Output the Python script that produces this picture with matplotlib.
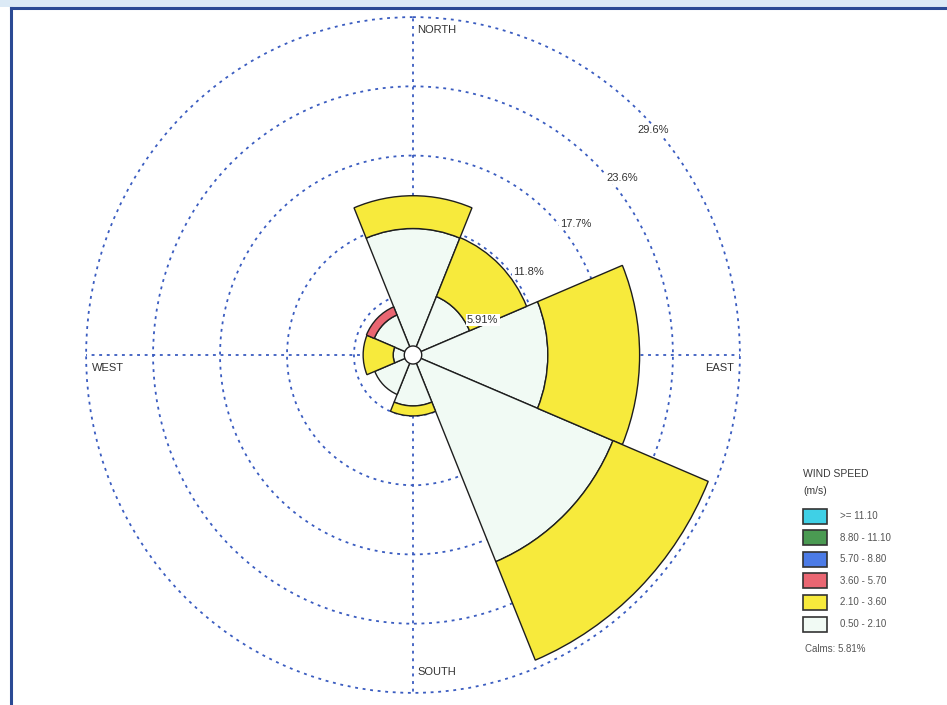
import numpy as np
import matplotlib
matplotlib.use("Agg")
import matplotlib.pyplot as plt
from matplotlib.patches import Rectangle
from matplotlib.lines import Line2D

# ---------------- data ----------------
directions = ['N', 'NE', 'E', 'SE', 'S', 'SW', 'W', 'NW']
dir_angles_deg = [0, 45, 90, 135, 180, 225, 270, 315]
speed_classes = ['0.50 - 2.10', '2.10 - 3.60', '3.60 - 5.70',
                 '5.70 - 8.80', '8.80 - 11.10', '>= 11.10']
freq_050_210 = [10.8, 5.4, 11.9, 19.1, 4.35, 3.65, 1.75, 3.7]
freq_210_360 = [2.8, 5.45, 8.1, 9.1, 0.85, 0.0, 2.65, 0.0]
freq_360_570 = [0.0, 0.0, 0.0, 0.0, 0.0, 0.0, 0.0, 0.75]
freq_570_880 = [0.0] * 8
freq_880_1110 = [0.0] * 8
freq_ge_1110 = [0.0] * 8
calms_pct = 5.81
ring_values = [5.91, 11.82, 17.73, 23.64, 29.55]
ring_labels = ['5.91%', '11.8%', '17.7%', '23.6%', '29.6%']
compass_labels = ['NORTH', 'EAST', 'SOUTH', 'WEST']

class_colors = ['#f1faf4', '#f7ea3c', '#ea6672', '#4c7be6', '#4a9a52', '#3fd0e6']
class_freqs = [freq_050_210, freq_210_360, freq_360_570,
               freq_570_880, freq_880_1110, freq_ge_1110]

W, H = 947, 705
fig = plt.figure(figsize=(W / 100, H / 100), dpi=100)
fig.patch.set_facecolor('white')

# frame decorations
fig.add_artist(Rectangle((0, 1 - 7 / H), 1, 7 / H, transform=fig.transFigure,
                         facecolor='#dceaf6', edgecolor='none', zorder=0))
fig.add_artist(Line2D([11 / W, 1], [1 - 8 / H, 1 - 8 / H], transform=fig.transFigure,
                      color='#2b4a94', lw=2.2))
fig.add_artist(Line2D([11 / W, 11 / W], [0, 1 - 8 / H], transform=fig.transFigure,
                      color='#2b4a94', lw=2.2))

# polar axes (slightly elliptical like the scan)
cx, cy = 413, 355
rx, ry = 327, 338
ax = fig.add_axes([(cx - rx) / W, (H - (cy + ry)) / H, 2 * rx / W, 2 * ry / H],
                  projection='polar')
ax.set_aspect('auto')
ax.set_theta_zero_location('N')
ax.set_theta_direction(-1)
rmin = 0.7
ax.set_ylim(rmin, 29.56)
ax.set_facecolor('none')
ax.spines['polar'].set_visible(False)
ax.set_axisbelow(True)

ax.set_rgrids(ring_values, labels=[''] * len(ring_values))
ax.set_thetagrids([0, 90, 180, 270], labels=[''] * 4)
ax.grid(True, color='#3a5cc0', linestyle=(0, (1.6, 2.6)), linewidth=1.3)
ax.tick_params(axis='both', length=0)
for gl in ax.yaxis.get_gridlines() + ax.xaxis.get_gridlines():
    gl.set_clip_on(False)

theta = np.deg2rad(dir_angles_deg)
width = 2 * np.pi / len(directions)
bottom = np.full(len(directions), rmin)
for vals, col in zip(class_freqs, class_colors):
    v = np.array(vals)
    mask = v > 0
    if mask.any():
        ax.bar(theta[mask], v[mask], width=width, bottom=bottom[mask],
               color=col, edgecolor='#1e1e1e', linewidth=1.0, align='center',
               zorder=2)
    bottom = bottom + v

# calm circle
calm_r = rmin + 0.77
circ_t = np.linspace(0, 2 * np.pi, 181)
ax.fill(circ_t, np.full_like(circ_t, calm_r), facecolor='white',
        edgecolor='#1e1e1e', linewidth=1.0, zorder=3)

# ring labels
label_offsets = [(28, -8), (26, -9), (26, -10), (25, -13), (9, -14)]
for val, lab, off in zip(ring_values, ring_labels, label_offsets):
    ax.annotate(lab, xy=(np.pi / 4, val), xytext=off, textcoords='offset pixels',
                ha='center', va='center', fontsize=8, color='#333333',
                family='Liberation Sans', zorder=5,
                bbox=dict(boxstyle='square,pad=0.1', fc='white', ec='none'))

# compass labels
rtop = 29.56
compass_pos = [(0, (4, -13), 'left'), (np.pi / 2, (-6, -13), 'right'),
               (np.pi, (4, 21), 'left'), (3 * np.pi / 2, (6, -13), 'left')]
for lab, (ang, off, ha) in zip(compass_labels, compass_pos):
    ax.annotate(lab, xy=(ang, rtop), xytext=off, textcoords='offset pixels',
                ha=ha, va='center', fontsize=8, color='#333333',
                family='Liberation Sans', zorder=5)

# legend
def fy(y):
    return 1 - y / H

fig.text(803 / W, fy(474), 'WIND SPEED', fontsize=7.5, color='#3a3a3a',
         family='Liberation Sans', va='center', ha='left')
fig.text(803 / W, fy(491), '(m/s)', fontsize=7.5, color='#3a3a3a',
         family='Liberation Sans', va='center', ha='left')
legend_order = list(range(len(speed_classes)))[::-1]
for i, k in enumerate(legend_order):
    yc = 516 + i * 21.6
    fig.add_artist(Rectangle((803 / W, fy(yc + 7.5)), 24 / W, 15 / H,
                             transform=fig.transFigure, facecolor=class_colors[k],
                             edgecolor='#333333', linewidth=1.2))
    fig.text(840 / W, fy(yc), speed_classes[k], fontsize=7, color='#555555',
             family='Liberation Sans', va='center', ha='left')
fig.text(805 / W, fy(649), f'Calms: {calms_pct:.2f}%', fontsize=7, color='#555555',
         family='Liberation Sans', va='center', ha='left')

fig.savefig('out.png', dpi=100)
